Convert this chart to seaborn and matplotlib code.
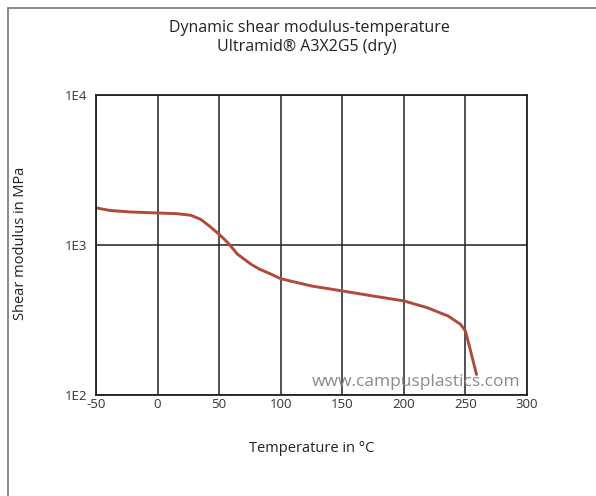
import numpy as np
import pandas as pd
import matplotlib
matplotlib.use("Agg")
import matplotlib.pyplot as plt
import seaborn as sns
from matplotlib.lines import Line2D

# values
temperature = [-50, -39, -22, 0, 16, 27, 35, 42, 50, 57, 65, 76, 83, 92, 100,
               125, 150, 175, 200, 219, 236, 246, 250, 253.5, 259]
modulus = [1770, 1700, 1660, 1635, 1617, 1578, 1483, 1339, 1178, 1037, 867, 743, 689, 640, 596,
           533, 494, 457, 424, 382, 336, 296, 267, 207, 137]

x_ticks = [-50, 0, 50, 100, 150, 200, 250, 300]
y_ticks = [100, 1000, 10000]
y_tick_labels = ["1E2", "1E3", "1E4"]

df = pd.DataFrame({"Temperature": temperature, "Modulus": modulus})

sns.set_style("white")
plt.rcParams['font.family'] = ['Open Sans', 'DejaVu Sans']
plt.rcParams['axes.unicode_minus'] = False

fig = plt.figure(figsize=(5.96, 4.96), dpi=100)
ax = fig.add_axes([96/596, 1 - 395/496, (527-96)/596, (395-95)/496])

sns.lineplot(data=df, x="Temperature", y="Modulus", ax=ax, color="#b04a3a", linewidth=2.1)
ax.set_yscale("log")
ax.set_xlim(-50, 300)
ax.set_ylim(100, 10000)
ax.set_xticks(x_ticks)
ax.set_yticks(y_ticks)
ax.set_yticklabels(y_tick_labels)
ax.minorticks_off()
ax.grid(True, color="#222222", linewidth=1.1)
for s in ax.spines.values():
    s.set_color("#222222")
    s.set_linewidth(1.3)
ax.tick_params(axis="x", length=0, pad=2, labelsize=9.5, colors="#333333")
ax.tick_params(axis="y", length=4, width=1, pad=2, labelsize=9.5, colors="#333333")

ax.set_xlabel("Temperature in °C", fontsize=10.5, color="#222222", labelpad=22)
ax.set_ylabel("")
fig.text(21/596, 1 - 243/496, "Shear modulus in MPa", rotation=90, ha="center", va="center",
         fontsize=10.5, color="#222222")

fig.text(309/596, 1 - 28/496, "Dynamic shear modulus-temperature", ha="center", va="center",
         fontsize=11.5, color="#222222")
fig.text(307/596, 1 - 47/496, "Ultramid® A3X2G5 (dry)", ha="center", va="center",
         fontsize=11.5, color="#222222")

ax.text(0.985, 0.015, "www.campusplastics.com", transform=ax.transAxes, ha="right", va="bottom",
        fontsize=12.5, color="#858b94")

# outer frame of the page
fig.add_artist(Line2D([8/596, 1], [1 - 8/496, 1 - 8/496], transform=fig.transFigure, color="#777777", linewidth=1.2))
fig.add_artist(Line2D([8/596, 8/596], [0, 1 - 8/496], transform=fig.transFigure, color="#777777", linewidth=1.2))

fig.savefig("out.png", dpi=100)
